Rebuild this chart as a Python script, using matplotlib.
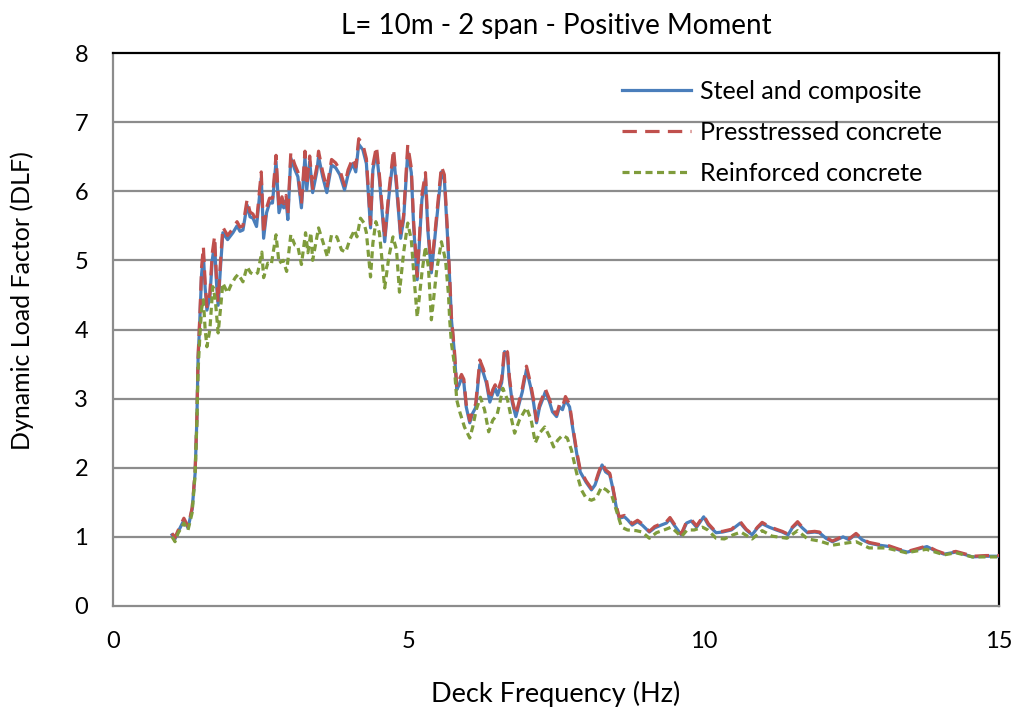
import matplotlib
matplotlib.use("Agg")
import matplotlib.pyplot as plt

plt.rcParams['font.family'] = ['Lato', 'DejaVu Sans']

# Deck frequency (Hz) for the steel / prestressed series
freq = [1.00, 1.05, 1.10, 1.20, 1.27, 1.34, 1.39, 1.42, 1.44, 1.47, 1.50, 1.53, 1.56, 1.59,
        1.64, 1.68, 1.72, 1.75, 1.78, 1.82, 1.86, 1.94, 2.03, 2.10, 2.15, 2.20, 2.27, 2.32,
        2.37, 2.43, 2.51, 2.55, 2.60, 2.65, 2.70, 2.76, 2.81, 2.86, 2.89, 2.93, 2.96, 3.01,
        3.08, 3.13, 3.19, 3.25, 3.28, 3.33, 3.38, 3.45, 3.48, 3.55, 3.62, 3.70, 3.77, 3.84,
        3.92, 3.98, 4.06, 4.11, 4.16, 4.23, 4.29, 4.36, 4.40, 4.46, 4.51, 4.60, 4.67, 4.75,
        4.80, 4.87, 4.92, 4.99, 5.05, 5.09, 5.15, 5.23, 5.29, 5.33, 5.39, 5.48, 5.56, 5.61,
        5.66, 5.70, 5.73, 5.78, 5.82, 5.86, 5.90, 5.94, 5.98, 6.04, 6.09, 6.14, 6.21, 6.27,
        6.32, 6.38, 6.43, 6.47, 6.51, 6.58, 6.63, 6.68, 6.71, 6.76, 6.82, 6.88, 6.93, 7.00,
        7.07, 7.12, 7.17, 7.22, 7.27, 7.32, 7.39, 7.44, 7.51, 7.56, 7.61, 7.66, 7.73, 7.78,
        7.85, 7.91, 8.01, 8.10, 8.16, 8.22, 8.28, 8.34, 8.41, 8.46, 8.52, 8.57, 8.66, 8.72,
        8.79, 8.88, 8.96, 9.08, 9.17, 9.28, 9.37, 9.43, 9.50, 9.62, 9.71, 9.79, 9.88, 10.00,
        10.08, 10.21, 10.32, 10.47, 10.62, 10.72, 10.82, 10.91, 10.99, 11.11, 11.23, 11.33,
        11.43, 11.50, 11.59, 11.67, 11.76, 11.88, 11.96, 12.07, 12.18, 12.26, 12.36, 12.46,
        12.58, 12.68, 12.80, 12.97, 13.14, 13.31, 13.45, 13.62, 13.78, 13.94, 14.07, 14.27,
        14.44, 14.55, 14.78, 15.00]

dlf_steel = [1.03, 0.97, 1.07, 1.24, 1.13, 1.40, 1.92, 2.70, 3.56, 4.14, 4.80, 5.08, 4.60, 4.28,
             4.47, 5.00, 5.25, 4.70, 4.35, 4.90, 5.40, 5.30, 5.40, 5.50, 5.42, 5.44, 5.80, 5.63,
             5.61, 5.49, 6.19, 5.32, 5.69, 5.83, 5.83, 6.43, 5.69, 5.85, 5.76, 5.87, 5.59, 6.48,
             6.31, 6.21, 5.76, 6.50, 6.02, 6.43, 5.98, 6.28, 6.50, 6.21, 5.98, 6.38, 6.34, 6.24,
             6.02, 6.24, 6.40, 6.28, 6.68, 6.60, 6.40, 5.47, 6.31, 6.57, 6.17, 5.27, 5.92, 6.53,
             6.06, 5.32, 5.59, 6.57, 6.27, 5.49, 4.72, 5.88, 6.19, 5.44, 4.82, 5.59, 6.28, 6.17,
             5.40, 4.72, 4.14, 3.66, 3.13, 3.20, 3.30, 3.23, 2.88, 2.65, 2.79, 2.87, 3.49, 3.37,
             3.23, 2.95, 3.08, 3.15, 3.05, 3.23, 3.68, 3.61, 3.27, 2.94, 2.74, 2.94, 3.10, 3.42,
             3.17, 2.94, 2.65, 2.87, 2.98, 3.10, 2.95, 2.81, 2.74, 2.88, 2.84, 2.98, 2.88, 2.59,
             2.21, 1.94, 1.79, 1.68, 1.75, 1.90, 2.04, 1.94, 1.90, 1.71, 1.43, 1.27, 1.29, 1.24,
             1.17, 1.22, 1.17, 1.07, 1.13, 1.17, 1.20, 1.26, 1.17, 1.03, 1.20, 1.23, 1.14, 1.29,
             1.17, 1.06, 1.07, 1.10, 1.20, 1.10, 1.03, 1.13, 1.19, 1.14, 1.10, 1.07,
             1.03, 1.13, 1.20, 1.13, 1.06, 1.07, 1.06, 0.98, 0.93, 0.96, 1.00, 0.96,
             1.04, 0.96, 0.91, 0.88, 0.86, 0.81, 0.78, 0.82, 0.86, 0.79, 0.75, 0.78,
             0.74, 0.71, 0.72, 0.72]

dlf_prestressed = [1.05, 0.99, 1.09, 1.27, 1.15, 1.42, 1.94, 2.72, 3.60, 4.20, 4.90, 5.20, 4.68, 4.33,
                   4.52, 5.10, 5.35, 4.78, 4.40, 4.98, 5.48, 5.36, 5.46, 5.56, 5.48, 5.50, 5.88, 5.70,
                   5.67, 5.55, 6.28, 5.38, 5.76, 5.90, 5.90, 6.52, 5.75, 5.92, 5.82, 5.94, 5.65, 6.56,
                   6.38, 6.28, 5.82, 6.58, 6.08, 6.51, 6.04, 6.35, 6.58, 6.28, 6.04, 6.46, 6.41, 6.31,
                   6.08, 6.31, 6.48, 6.35, 6.76, 6.68, 6.47, 5.52, 6.38, 6.65, 6.24, 5.32, 5.99, 6.61,
                   6.13, 5.37, 5.65, 6.67, 6.34, 5.55, 4.77, 5.95, 6.27, 5.50, 4.87, 5.66, 6.36, 6.24,
                   5.46, 4.77, 4.18, 3.70, 3.17, 3.27, 3.35, 3.28, 2.92, 2.68, 2.83, 2.92, 3.56, 3.43,
                   3.28, 2.99, 3.13, 3.20, 3.10, 3.28, 3.74, 3.67, 3.32, 2.98, 2.77, 2.98, 3.15, 3.47,
                   3.22, 2.98, 2.68, 2.91, 3.02, 3.14, 2.99, 2.85, 2.77, 2.92, 2.88, 3.03, 2.92, 2.62,
                   2.24, 1.97, 1.81, 1.70, 1.77, 1.93, 2.07, 1.97, 1.92, 1.73, 1.45, 1.29, 1.31, 1.26,
                   1.19, 1.24, 1.19, 1.08, 1.15, 1.19, 1.22, 1.28, 1.19, 1.04, 1.22, 1.25, 1.16, 1.31,
                   1.19, 1.07, 1.08, 1.11, 1.22, 1.11, 1.04, 1.14, 1.21, 1.15, 1.11, 1.08,
                   1.04, 1.14, 1.22, 1.14, 1.07, 1.08, 1.07, 0.99, 0.94, 0.97, 1.01, 0.97,
                   1.05, 0.97, 0.92, 0.89, 0.87, 0.82, 0.79, 0.83, 0.87, 0.80, 0.76, 0.79,
                   0.75, 0.72, 0.73, 0.73]

# Deck frequency (Hz) for the reinforced concrete series
freq_rc = [1.00, 1.05, 1.10, 1.20, 1.27, 1.34, 1.39, 1.42, 1.44, 1.47, 1.50, 1.53, 1.56, 1.59,
           1.64, 1.69, 1.73, 1.78, 1.82, 1.86, 1.94, 2.00, 2.07, 2.12, 2.20, 2.27, 2.33, 2.40,
           2.45, 2.52, 2.55, 2.62, 2.68, 2.76, 2.81, 2.88, 2.94, 3.01, 3.08, 3.13, 3.19, 3.26,
           3.30, 3.35, 3.38, 3.48, 3.56, 3.63, 3.70, 3.79, 3.87, 3.94, 4.01, 4.09, 4.13, 4.19,
           4.25, 4.29, 4.36, 4.40, 4.45, 4.51, 4.60, 4.67, 4.74, 4.80, 4.85, 4.92, 4.99, 5.05,
           5.10, 5.15, 5.23, 5.29, 5.34, 5.39, 5.48, 5.56, 5.63, 5.68, 5.70, 5.73, 5.77, 5.82,
           5.87, 5.95, 6.04, 6.09, 6.15, 6.22, 6.29, 6.36, 6.43, 6.50, 6.55, 6.60, 6.68, 6.75,
           6.80, 6.88, 6.96, 7.00, 7.08, 7.15, 7.22, 7.31, 7.39, 7.46, 7.53, 7.61, 7.69, 7.76,
           7.85, 7.93, 8.01, 8.10, 8.18, 8.27, 8.35, 8.44, 8.52, 8.61, 8.71, 8.86, 8.96, 9.08,
           9.20, 9.33, 9.45, 9.54, 9.62, 9.72, 9.84, 9.98, 10.07, 10.21, 10.35, 10.50, 10.63,
           10.82, 10.99, 11.16, 11.41, 11.59, 11.76, 11.96, 12.18, 12.41, 12.58, 12.80, 13.09,
           13.43, 13.77, 14.07, 14.27, 14.55, 15.00]

dlf_reinforced = [1.00, 0.93, 1.05, 1.20, 1.10, 1.35, 1.90, 2.65, 3.40, 3.90, 4.30, 4.43, 4.00, 3.75,
                  4.00, 4.62, 4.45, 3.95, 4.30, 4.67, 4.53, 4.65, 4.75, 4.80, 4.69, 4.91, 4.82, 4.79,
                  4.82, 5.12, 4.75, 4.96, 4.94, 5.37, 4.96, 5.00, 4.84, 5.37, 5.22, 5.20, 4.94, 5.40,
                  5.11, 5.40, 5.00, 5.47, 5.25, 5.05, 5.37, 5.34, 5.15, 5.12, 5.30, 5.44, 5.34, 5.61,
                  5.54, 5.40, 4.76, 5.25, 5.56, 5.40, 4.60, 5.05, 5.34, 5.15, 4.54, 5.11, 5.54, 5.30,
                  4.72, 4.18, 4.82, 5.20, 4.90, 4.14, 4.86, 5.27, 5.00, 4.50, 4.14, 3.80, 3.56, 2.98,
                  2.81, 2.59, 2.43, 2.59, 2.84, 3.02, 2.84, 2.52, 2.69, 2.76, 2.94, 3.15, 2.98, 2.69,
                  2.50, 2.69, 2.81, 2.87, 2.69, 2.36, 2.50, 2.59, 2.45, 2.30, 2.40, 2.47, 2.43, 2.26,
                  1.92, 1.68, 1.56, 1.53, 1.56, 1.72, 1.68, 1.61, 1.39, 1.14, 1.10, 1.09, 1.07, 0.98,
                  1.06, 1.10, 1.14, 1.07, 1.00, 1.10, 1.10, 1.14, 1.10, 0.98, 0.97, 1.03, 1.07,
                  0.97, 1.09, 1.01, 0.98, 1.09, 0.97, 0.94, 0.88, 0.91, 0.93, 0.84, 0.84,
                  0.77, 0.82, 0.74, 0.77, 0.71, 0.71]

labels = ["Steel and composite", "Presstressed concrete", "Reinforced concrete"]
x_ticks = [0, 5, 10, 15]
y_ticks = [0, 1, 2, 3, 4, 5, 6, 7, 8]

fig = plt.figure(figsize=(10.15, 7.12), dpi=100)
ax = fig.add_axes([113 / 1015, 106 / 712, 886 / 1015, 553 / 712])

grid_grey = "#8c8c8c"
for yv in y_ticks[1:-1]:
    ax.axhline(yv, color=grid_grey, lw=1.6, zorder=1)

ax.plot(freq, dlf_steel, color="#4a7ebb", lw=2.3, label=labels[0], zorder=3)
ax.plot(freq, dlf_prestressed, color="#c0504d", lw=2.3, linestyle=(0, (4.5, 2.6)),
        label=labels[1], zorder=4)
ax.plot(freq_rc, dlf_reinforced, color="#7f9c3c", lw=2.3, linestyle=(0, (2.2, 1.4)),
        label=labels[2], zorder=5)

ax.set_xlim(0, 15)
ax.set_ylim(0, 8)
ax.set_xticks(x_ticks)
ax.set_yticks(y_ticks)
ax.tick_params(axis="both", length=0, labelsize=17, colors="black")
ax.tick_params(axis="x", pad=18)
ax.tick_params(axis="y", pad=18)

for side in ("left", "bottom"):
    ax.spines[side].set_color(grid_grey)
    ax.spines[side].set_linewidth(1.6)
for side in ("top", "right"):
    ax.spines[side].set_color("black")
    ax.spines[side].set_linewidth(1.6)

ax.set_title("L= 10m - 2 span - Positive Moment", fontsize=20, pad=14)
ax.set_xlabel("Deck Frequency (Hz)", fontsize=19.5, labelpad=21)
ax.set_ylabel("Dynamic Load Factor (DLF)", fontsize=18)
ax.yaxis.set_label_coords(-0.089, 0.553)

ax.legend(loc="upper left", bbox_to_anchor=(0.5745, 0.952), frameon=False, fontsize=18,
          handlelength=2.75, handletextpad=0.35, labelspacing=0.72, borderpad=0,
          borderaxespad=0)

fig.savefig("out.png", dpi=100)
